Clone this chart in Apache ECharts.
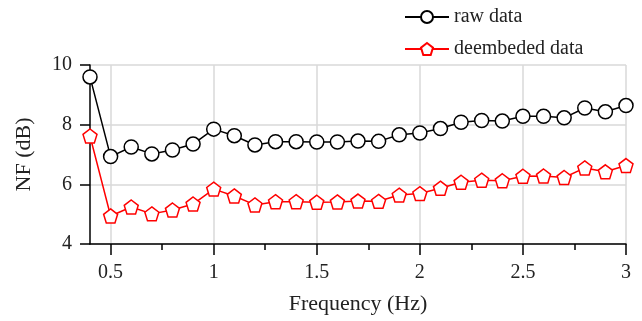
<!DOCTYPE html>
<html>
<head>
<meta charset="utf-8">
<script src="https://cdn.jsdelivr.net/npm/echarts@6/dist/echarts.min.js"></script>
<style>
  html, body { margin: 0; padding: 0; background: #fff; }
  #chart { width: 642px; height: 321px; }
</style>
</head>
<body>
<div id="chart"></div>
<script>
const freq = [0.4, 0.5, 0.6, 0.7, 0.8, 0.9, 1.0, 1.1, 1.2, 1.3, 1.4, 1.5, 1.6, 1.7, 1.8, 1.9,
  2.0, 2.1, 2.2, 2.3, 2.4, 2.5, 2.6, 2.7, 2.8, 2.9, 3.0];
const rawData = [9.6, 6.93, 7.25, 7.02, 7.15, 7.35, 7.85, 7.63, 7.32, 7.43, 7.43, 7.42, 7.42, 7.45, 7.44, 7.66,
  7.72, 7.87, 8.08, 8.14, 8.12, 8.28, 8.28, 8.23, 8.56, 8.43, 8.64];
const deembData = [7.62, 4.94, 5.24, 5.01, 5.14, 5.34, 5.84, 5.61, 5.31, 5.42, 5.42, 5.4, 5.41, 5.44, 5.43, 5.64,
  5.69, 5.87, 6.07, 6.14, 6.12, 6.27, 6.28, 6.23, 6.55, 6.42, 6.63];
const seriesNames = ['raw data', 'deembeded data'];
const xMajorTicks = [0.5, 1, 1.5, 2, 2.5, 3];
const xMinorTicks = [0.75, 1.25, 1.75, 2.25, 2.75];

const pentagon = 'path://M0,-10 L9.51,-3.09 L5.88,8.09 L-5.88,8.09 L-9.51,-3.09 Z';
const font = 'Liberation Serif';

const chart = echarts.init(document.getElementById('chart'));
const option = {
  animation: false,
  textStyle: { fontFamily: font },
  legend: {
    orient: 'vertical',
    left: 399,
    top: 2,
    itemWidth: 44,
    itemHeight: 15,
    itemGap: 12,
    textStyle: { fontFamily: font, fontSize: 20, color: '#222' },
    data: seriesNames
  },
  grid: { left: 90, right: 16, top: 65, bottom: 77 },
  xAxis: [
    {
      type: 'value',
      min: 0.4,
      max: 3,
      name: 'Frequency (Hz)',
      nameLocation: 'middle',
      nameGap: 49,
      nameTextStyle: { fontFamily: font, fontSize: 22, color: '#222' },
      axisLine: { lineStyle: { color: '#000', width: 1.5 } },
      axisTick: { length: 11, customValues: xMajorTicks, lineStyle: { color: '#000', width: 1.5 } },
      axisLabel: { customValues: xMajorTicks, margin: 19, fontFamily: font, fontSize: 20, color: '#222' },
      splitLine: { show: true, lineStyle: { color: '#d9d9d9', width: 1.5 } }
    },
    {
      type: 'value',
      min: 0.4,
      max: 3,
      position: 'bottom',
      axisLine: { show: false },
      axisTick: { length: 6, customValues: xMinorTicks, lineStyle: { color: '#000', width: 1.5 } },
      axisLabel: { show: false },
      splitLine: { show: false }
    }
  ],
  yAxis: {
    type: 'value',
    min: 4,
    max: 10,
    interval: 2,
    name: 'NF (dB)',
    nameLocation: 'middle',
    nameGap: 55,
    nameTextStyle: { fontFamily: font, fontSize: 22, color: '#222' },
    axisLine: { show: true, lineStyle: { color: '#000', width: 1.5 } },
    axisTick: { show: true, length: 10, lineStyle: { color: '#000', width: 1.5 } },
    axisLabel: { margin: 18, fontFamily: font, fontSize: 20, color: '#222' },
    splitLine: { show: true, lineStyle: { color: '#d9d9d9', width: 1.5 } }
  },
  series: [
    {
      name: seriesNames[0],
      type: 'line',
      data: freq.map((f, i) => [f, rawData[i]]),
      symbol: 'circle',
      symbolSize: 14,
      showAllSymbol: true,
      lineStyle: { color: '#000', width: 1.5 },
      itemStyle: { color: '#fff', borderColor: '#000', borderWidth: 1.5 }
    },
    {
      name: seriesNames[1],
      type: 'line',
      data: freq.map((f, i) => [f, deembData[i]]),
      symbol: pentagon,
      symbolSize: 14,
      showAllSymbol: true,
      lineStyle: { color: '#ff0000', width: 1.5 },
      itemStyle: { color: '#fff', borderColor: '#ff0000', borderWidth: 1.5 }
    }
  ]
};
chart.setOption(option);
</script>
</body>
</html>
